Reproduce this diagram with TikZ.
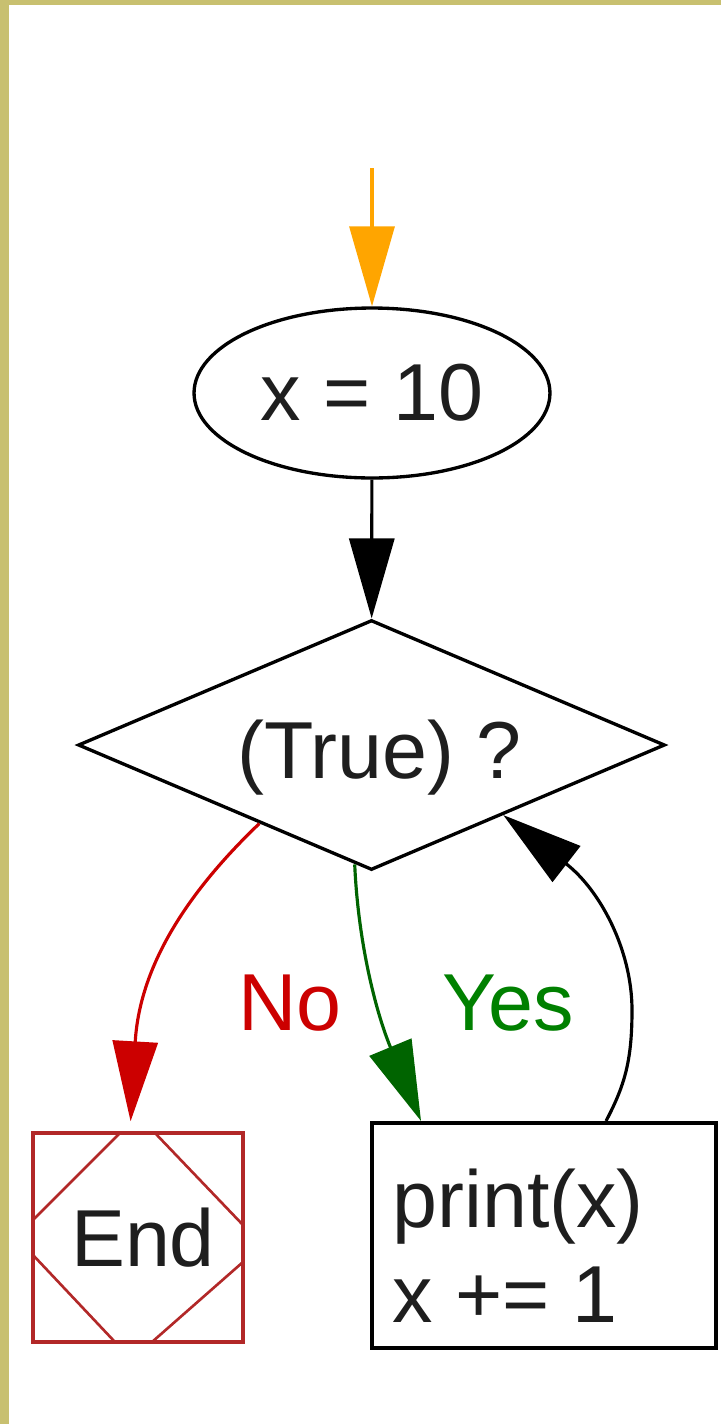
\documentclass[tikz,border=0pt]{standalone}
\usepackage{fontspec}
\setmainfont{Liberation Sans}
\usetikzlibrary{shapes.geometric,arrows.meta,calc}
\definecolor{framecol}{RGB}{200,192,112}
\definecolor{endred}{RGB}{178,40,40}
\definecolor{arrred}{RGB}{204,0,0}
\definecolor{arrgreen}{RGB}{0,100,0}
\definecolor{lblgreen}{RGB}{0,128,0}
\definecolor{arrorange}{RGB}{255,165,0}
\definecolor{txtcol}{RGB}{30,30,30}
\begin{document}
\begin{tikzpicture}[x=0.02cm,y=-0.02cm,
  every node/.style={font=\fontsize{46}{54}\selectfont, text=txtcol, inner sep=0pt},
  gvtip/.tip={Triangle[length=1.6cm,width=0.9cm]},
  conn/.style={line width=1.8pt,-gvtip},
  shapeline/.style={draw, line width=1.9pt},
  boxline/.style={draw, line width=2.3pt},
  lbl/.style={anchor=base west}]
\useasboundingbox (0,0) rectangle (721,1424);
\fill[white] (0,0) rectangle (721,1424);
\fill[framecol] (0,0) rectangle (9,1424);
\fill[framecol] (0,0) rectangle (721,5);

% nodes
\coordinate (entry) at (372,168);
\node[shapeline, ellipse, minimum width=7.12cm, minimum height=3.4cm] (init) at (372,393) {x = 10};
\node[shapeline, diamond, aspect=2.35, minimum width=11.74cm, minimum height=5cm,
      text height=1.32cm, text depth=0pt] (cond) at (371.5,745) {\hspace{0.32cm}(True) ?};
\node[boxline, draw=endred, line width=2pt, minimum width=4.2cm, minimum height=4.18cm] (stop) at (138,1237.5) {\hspace{0.2cm}End};
\node[boxline, minimum width=6.88cm, minimum height=4.5cm] (body) at (544,1235.5) {};
\node[lbl] (line1) at (392,1227) {print(x)};
\node[lbl] (line2) at (392,1322) {x += 1};

% inner decoration of End box
\begin{scope}[endred, line width=1.5pt]
\draw (120,1133) -- (33,1220);
\draw (155,1133) -- (243,1225);
\draw (33,1255) -- (115,1342);
\draw (243,1262) -- (152,1342);
\end{scope}

% edge labels
\node[lbl, text=arrred] (nolbl) at (238,1030) {No};
\node[lbl, text=lblgreen] (yeslbl) at (442,1030) {Yes};

% connectors
\draw[conn, arrorange] (entry) -- (init);
\draw[conn] (init) -- (cond);
\draw[conn, arrred, shorten >=0.2cm] (cond.215) .. controls (195,885) and (140,960) .. ($(stop.north)+(-8,0)$);
\draw[conn, arrgreen] (cond.262) .. controls (358,940) and (375,1010) .. ($(body.north west)+(51,0)$);
\draw[conn] ($(body.north west)+(236,0)$) .. controls (625,1085) and (632,1060) .. (632,1010)
      .. controls (632,950) and (600,890) .. (cond.332);
\end{tikzpicture}
\end{document}
